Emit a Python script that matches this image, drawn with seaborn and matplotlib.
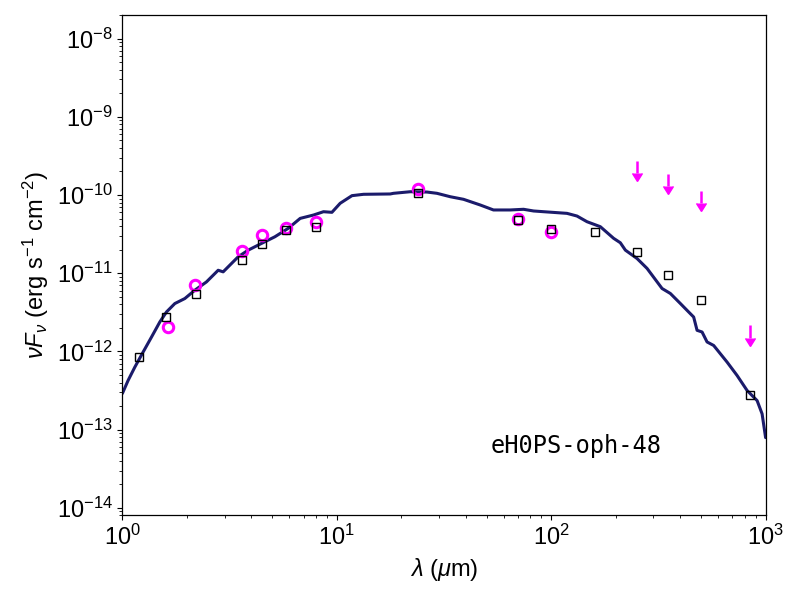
"""SED of eHOPS-oph-48: photometry, upper limits and best-fit model."""
import matplotlib
matplotlib.use('Agg')
import matplotlib.pyplot as plt
from matplotlib.markers import CARETDOWNBASE
import numpy as np
import seaborn as sns

# model SED (wavelength in micron, nuFnu in erg s^-1 cm^-2)
model_lam = [1.0, 1.063, 1.143, 1.249, 1.366, 1.495, 1.605, 1.756, 1.955, 2.177,
             2.466, 2.797, 2.951, 3.227, 3.467, 3.861, 4.453, 5.143, 5.933, 6.749,
             7.785, 8.67, 9.49, 10.37, 11.77, 13.33, 17.75, 18.39, 22.0, 26.33,
             29.32, 33.8, 39.0, 46.7, 53.8, 64.4, 74.3, 82.8, 92.1, 118.5,
             131.9, 146.9, 169.5, 195.5, 210.1, 221.8, 251.4, 280.0, 328.9, 359.6,
             400.5, 437.7, 461.8, 479.0, 505.5, 533.3, 572.6, 661.4, 736.2, 820.0,
             912.8, 963.1, 1000.0]
model_flux = [2.9e-13, 4.25e-13, 6.3e-13, 9.8e-13, 1.52e-12, 2.38e-12, 3.19e-12, 4.09e-12,
              4.74e-12, 6.06e-12, 7.73e-12, 1.09e-11, 1.04e-11, 1.33e-11, 1.62e-11,
              1.97e-11, 2.40e-11, 2.92e-11, 3.74e-11, 5.02e-11, 5.54e-11, 6.11e-11,
              6.0e-11, 7.83e-11, 9.8e-11, 1.02e-10, 1.03e-10, 1.05e-10, 1.10e-10,
              1.09e-10, 1.05e-10, 9.5e-11, 8.8e-11, 7.44e-11, 6.43e-11, 6.43e-11,
              6.56e-11, 6.24e-11, 6.11e-11, 5.82e-11, 5.38e-11, 4.55e-11, 3.93e-11,
              2.79e-11, 2.45e-11, 1.97e-11, 1.54e-11, 1.15e-11, 6.37e-12, 5.50e-12,
              4.09e-12, 3.19e-12, 2.75e-12, 1.86e-12, 1.77e-12, 1.32e-12, 1.19e-12,
              7.29e-13, 4.92e-13, 3.16e-13, 2.35e-13, 1.59e-13, 7.9e-14]

# model fluxes at the observed bands (open squares)
band_lam = [1.2, 1.6, 2.2, 3.6, 4.5, 5.8, 8.0, 24.0, 70.0, 100.0, 160.0,
            250.0, 350.0, 500.0, 850.0]
band_flux = [8.4e-13, 2.73e-12, 5.4e-12, 1.47e-11, 2.36e-11, 3.56e-11, 3.9e-11,
             1.05e-10, 4.78e-11, 3.7e-11, 3.33e-11, 1.84e-11, 9.6e-12, 4.6e-12,
             2.8e-13]

# observed photometry (open circles)
obs_lam = [1.64, 2.18, 3.6, 4.5, 5.8, 8.0, 24.0, 70.0, 100.0]
obs_flux = [2.05e-12, 7.0e-12, 1.91e-11, 3.07e-11, 3.81e-11, 4.47e-11, 1.19e-10,
            4.88e-11, 3.39e-11]

# upper limits (arrows)
ul_lam = [250.0, 350.0, 500.0, 850.0]
ul_flux = [2.73e-10, 1.86e-10, 1.12e-10, 2.15e-12]

source_name = 'eH0PS-oph-48'

MAGENTA = '#ff00ff'

sns.set_style('ticks')
plt.rcParams.update({
    'font.family': ['Liberation Sans', 'DejaVu Sans'],
    'mathtext.fontset': 'custom',
    'mathtext.rm': 'Liberation Sans',
    'mathtext.it': 'Liberation Sans:italic',
    'mathtext.bf': 'Liberation Sans:bold',
    'axes.edgecolor': 'black',
    'text.color': 'black',
    'axes.labelcolor': 'black',
    'xtick.color': 'black',
    'ytick.color': 'black',
    'axes.linewidth': 0.9,
})

fig = plt.figure(figsize=(8, 6), dpi=100)
ax = fig.add_axes([0.153, 0.141, 0.804, 0.834])
ax.set_xscale('log')
ax.set_yscale('log')

sns.lineplot(x=model_lam, y=model_flux, ax=ax, color='#1b1b6b', lw=2.2,
             sort=False, zorder=2)
ax.plot(obs_lam, obs_flux, 'o', ms=7.5, mfc='none', mec=MAGENTA, mew=2.2,
        zorder=3)
ax.plot(band_lam, band_flux, 's', ms=5.8, mfc='none', mec='black', mew=1.0,
        zorder=4)

# upper limits: short stem ending in a downward arrow head
ul = np.array(ul_flux)
ul_base = ul * 0.7
ax.vlines(ul_lam, ul_base, ul, color=MAGENTA, lw=1.8, zorder=3)
ax.plot(ul_lam, ul_base, ls='none', marker=CARETDOWNBASE, ms=7.5,
        color=MAGENTA, zorder=3)

ax.set_xlim(1, 1e3)
ax.set_ylim(8e-15, 2e-8)
ax.tick_params(labelsize=17)
ax.set_xlabel(r'$\lambda$ ($\mu$m)', fontsize=17)
ax.set_ylabel(r'$\nu F_\nu$ (erg s$^{-1}$ cm$^{-2}$)', fontsize=17)

ax.text(0.705, 0.1245, source_name, transform=ax.transAxes, ha='center',
        va='baseline', fontsize=17, family='DejaVu Sans Mono')

fig.savefig('out.png', dpi=100)
